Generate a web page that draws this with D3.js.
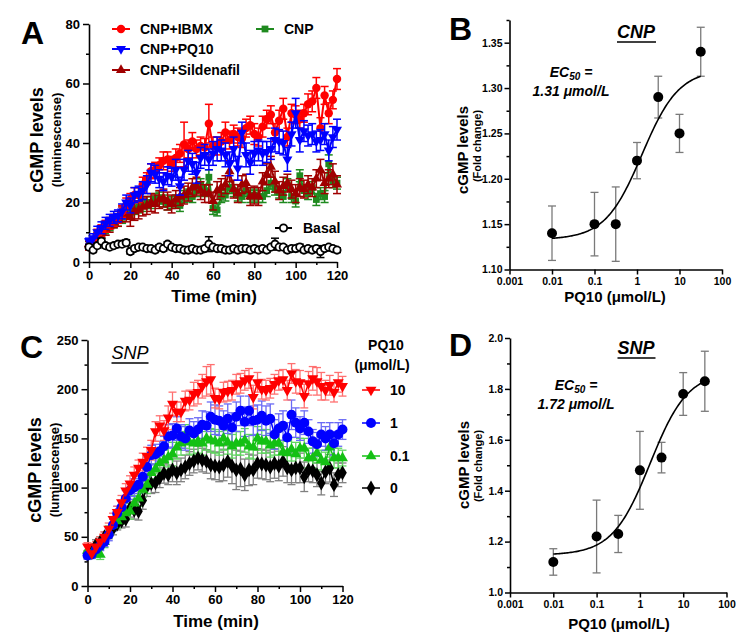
<!DOCTYPE html>
<html><head><meta charset="utf-8">
<script src="https://cdn.jsdelivr.net/npm/d3@7"></script>
<style>body{margin:0;background:#fff}svg{display:block}</style>
</head><body><svg id="c" width="747" height="642"></svg>
<script>
// ---------- DATA ----------
const timeMin = [0,2,4,6,8,10,12,14,16,18,
 20,22,24,26,28,30,32,34,36,38,
 40,42,44,46,48,50,52,54,56,58,
 60,62,64,66,68,70,72,74,76,78,
 80,82,84,86,88,90,92,94,96,98,
 100,102,104,106,108,110,112,114,116,118,
 120];

// Panel A (CNP) series
const cnpIbmx = [5,7,9,10.5,12,13,14,15,17,19,
 21,22.5,22.5,26,28,30.5,31,32.5,34,34.5,
 33,35,36.5,39.5,38,40.5,38,39,38.5,46.5,
 39,39,40.5,43.5,41,43,42,41.5,45,46,
 43,42,45.5,48,49.5,43.5,47.5,51.5,42,50,
 49.5,48,50,53,54,58.5,45,56,50,54.5,
 61.5];
const cnpPq10 = [7,8,10,11.5,13,14,15,15.5,17,20,
 19,22.5,23,24,26,30,29.5,28,27,29,
 28.5,31,25.5,31,34,33,30,35,36,34.5,
 36.5,38,37.5,36,33,38,31.5,43.5,36,33.5,
 36.5,37.5,36.5,37,38,41,40.5,40,34.5,43,
 50,41,44,42.5,43,40.5,41,43,37.5,42,
 44.5];
const cnpSild = [6,7,8,10,11,12,13.5,14,16,16,
 15,17,17.5,18.5,19,20,19.5,21,21.5,20.5,
 19.5,21,22,22.5,23.5,25,25.5,24,23,23,
 20.5,24,25,26,30.5,24.5,23,26,26.5,22,
 22.5,22,27,29.5,32,27,24,25.5,26.5,24.5,
 23,25,24.5,26,25,28,31,26.5,28,29.5,
 26];
const cnpOnly = [6,7,8,9.5,10.5,12,13,14,15,17,
 17.5,18,18.5,19,20,20,21,21.5,20.5,19.5,
 20,20.5,19,22,22.5,22,24,26,24,28.5,
 18,17.5,22,22.5,25,24,22.5,22,24,22,
 22.5,22,22,24,26.5,24.5,23.5,22,26,22,
 20.5,29,24,23,25,21,23,22,33,27,
 26.5];
const basal = [5,4,5.5,7,5.5,5,5.5,6,6,6.5,
 3.5,4.5,5,5,4.5,4.5,4,5,4.5,6,
 5,4.5,4.5,4,4,4.5,4,4,4.5,6,
 5,4.5,4.5,4,4,4.5,4,4.5,4.5,4,
 4.5,4,4.5,4,5,6,5,5,4,4.5,
 4.5,5,4,4.5,4,4.5,3.5,4.5,5,4.5,
 4];
const errIbmx = [1,1.5,2,2,2,2,2,2,2,2.5,
 2,2.5,2.5,2.5,2,2.5,2.5,2.5,3,2.5,
 2.5,3,3,7.5,3,3,3,3,3,6.5,
 3,3,3,3.5,3,3,3,3,3,3,
 3.5,3,3.5,3,3,3,3.5,3.5,3,3,
 3,3,3,3.5,3.5,3.5,3.5,3,3.5,3,
 3.5];
const errPq10 = [1,1.5,2,2,2,2,2,2,2.5,2.5,
 2.5,2.5,2.5,3,3,3,3,3,3,3,
 3,3.5,3,3.5,3.5,3.5,3.5,3.5,3.5,3.5,
 4,4,3.5,4,4,4,4,3.5,4,4,
 4,3.5,4,3.5,3.5,4,4,4,4,4,
 5,4,3.5,3.5,3.5,3.5,3.5,3.5,3.5,3.5,
 3.5];
const errSild = [1,1.5,2,2,2,2,2,2,2.5,2.5,
 3,3,3,3,3,3,3,3,3,3,
 3,3,3,3,3,3,3,3,3,3,
 3,3,3,3,3.5,3,3,3,3,3,
 3,3,3,3.5,3.5,3.5,3,3,3,3,
 3,3,3,3,3,3,3.5,3.5,3,3.5,
 3];
const errCnp = [1,1,1.5,1.5,1.5,1.5,1.5,2,2,2,
 2,2,2,2,2,2,2,2,2,2,
 2,2,2,2,2,2,2,2,2,2.5,
 2,2,2,2,2,2,2,2,2,2,
 2,2,2,2,2,2,2,2,2,2,
 2,2,2,2,2,2,2,2,3,2,
 2];
const errBasal = [0.8,0.8,0.8,1,0.8,0.8,0.8,0.8,0.8,1,
 0.8,0.8,0.8,0.8,0.8,0.8,0.8,0.8,0.8,0.8,
 0.8,0.8,0.8,0.8,0.8,0.8,0.8,0.8,0.8,2.5,
 0.8,0.8,0.8,0.8,0.8,0.8,0.8,0.8,0.8,0.8,
 0.8,0.8,0.8,0.8,0.8,2,0.8,0.8,0.8,0.8,
 1,1,0.8,0.8,0.8,0.8,2,0.8,0.8,0.8,
 0.8];

// Panel C (SNP) series by PQ10 dose
const snp10 = [40,33,40,45,50,58,68,75,85,97,
 104,113,120,126,132,138,157,163,158,171,
 185,177,177,188,189,195,197,203,208,210,
 191,190,197,198,199,205,206,209,211,192,
 207,200,199,201,205,209,210,199,216,208,
 207,193,206,211,208,203,199,204,197,207,
 203];
const snp1 = [31,32,37,41,45,52,62,74,80,89,
 97,100,103,111,121,133,134,137,142,152,
 153,160,152,150,158,155,159,164,163,172,
 169,168,163,170,161,172,178,167,178,168,
 169,173,168,170,154,160,163,151,174,166,
 160,166,157,147,144,154,150,154,145,154,
 159];
const snp01 = [36,33,34,32,45,55,62,66,70,74,
 76,84,89,98,103,115,119,125,128,131,
 134,141,145,152,146,145,147,145,150,148,
 147,145,150,146,142,145,145,148,142,141,
 150,147,147,143,145,145,136,135,139,134,
 140,140,130,130,135,128,126,141,130,130,
 130];
const snp0 = [32,35,42,45,50,54,58,63,66,68,
 79,77,76,87,101,104,105,110,114.5,113,
 118,115,118,121,124.5,127,130,128,126.6,123,
 122,121,123,126.6,122,118,119,113,118,118,
 124.6,124,123,121,124.5,122,126.6,120,118,120,
 120,111,118,117,113,104.6,116,119.6,103,113,
 115];
const err10 = [4,4,5,5,5,6,6,6,7,7,
 8,8,8,9,9,10,10,10,10,12,
 12,10,10,10,10,12,12,12,15,15,
 10,10,10,10,10,10,10,10,10,12,
 10,10,10,10,10,10,10,10,10,12,
 12,12,12,12,14,14,10,10,10,10,
 10];
const err1 = [4,4,5,5,5,6,6,7,7,8,
 9,9,9,9,10,10,10,10,10,12,
 12,12,12,12,12,12,12,14,14,15,
 15,15,15,15,15,15,15,15,15,15,
 15,15,15,15,15,15,15,15,15,15,
 12,12,12,12,12,12,12,12,12,12,
 10];
const err01 = [6,5,5,5,6,6,6,7,7,7,
 8,8,8,8,9,9,10,10,10,10,
 12,12,12,12,12,12,12,12,12,12,
 12,12,12,12,12,12,12,12,12,12,
 12,12,12,12,12,12,12,12,12,12,
 10,10,10,10,10,10,10,10,10,10,
 8];
const err0 = [4,4,5,5,5,6,6,6,7,8,
 9,9,9,9,10,10,10,10,10,10,
 12,12,12,12,12,12,12,12,12,14,
 14,15,16,16,18,20,18,16,16,15,
 15,15,15,15,15,15,15,15,15,15,
 15,15,12,12,12,12,12,14,12,12,
 10];

// Panels B / D dose response
const dosePQ10 = [0.01,0.1,0.316,1,3.16,10,31.6];
const foldCNP = [1.14,1.15,1.15,1.22,1.29,1.25,1.34];
const semCNP = [0.03,0.035,0.041,0.02,0.023,0.021,0.027];
const foldSNP = [1.12,1.22,1.23,1.48,1.53,1.78,1.83];
const semSNP = [0.052,0.143,0.073,0.153,0.06,0.084,0.118];
const fitCNP = [1.133, 1.3205, 1.31, 1.0]; // bottom, top, EC50, hill
const fitSNP = [1.147, 1.867, 1.72, 1.0];

// ticks
const timeTicks = [0,20,40,60,80,100,120];
const timeMinor = [10,30,50,70,90,110];
const ticksA = [0,20,40,60,80];
const minorA = [10,30,50,70];
const ticksC = [0,50,100,150,200,250];
const minorC = [25,75,125,175,225];
const logTicks = [0.001,0.01,0.1,1,10,100];
const logLabels = ["0.001","0.01","0.1","1","10","100"];
const ticksB = [1.10,1.15,1.20,1.25,1.30,1.35];
const minorB = [1.125,1.175,1.225,1.275,1.325,1.375];
const ticksD = [1.0,1.2,1.4,1.6,1.8,2.0];
const minorD = [1.1,1.3,1.5,1.7,1.9];

// ---------- DRAW ----------
const FONT = '"Liberation Sans", Arial, sans-serif';
const svg = d3.select("#c");

function txt(g, x, y, s, fs, opts = {}) {
  const t = g.append("text").attr("x", x).attr("y", y).text(s)
    .attr("font-family", FONT).attr("font-size", fs)
    .attr("font-weight", opts.weight || "bold")
    .attr("font-style", opts.style || "normal")
    .attr("text-anchor", opts.anchor || "start").attr("fill", "#000");
  if (opts.rot) t.attr("transform", `rotate(${opts.rot},${x},${y})`);
  return t;
}
function underline(g, t, dy) {
  const b = t.node().getBBox();
  g.append("line").attr("x1", b.x).attr("x2", b.x + b.width)
    .attr("y1", dy).attr("y2", dy).attr("stroke", "#000").attr("stroke-width", 1.5);
}
function styleAxis(g, fs) {
  g.attr("font-family", FONT).attr("font-size", fs);
  g.select(".domain").attr("stroke", "#000").attr("stroke-width", 1.6);
  g.selectAll(".tick line").attr("stroke", "#000").attr("stroke-width", 1.5);
  g.selectAll(".tick text").attr("font-weight", "bold").attr("fill", "#000").attr("font-size", fs);
}
function axes(x, y, xT, xMin, yT, yMin, fs, xFmt, yFmt, major, minor, pad) {
  const g = svg.append("g");
  const [x0] = x.range(); const [y0] = y.range();
  const gx = g.append("g").attr("transform", `translate(0,${y0})`)
    .call(d3.axisBottom(x).tickValues(xT).tickSize(major).tickSizeOuter(0).tickPadding(3).tickFormat(xFmt));
  styleAxis(gx, fs);
  if (xMin.length) {
    const m = g.append("g").attr("transform", `translate(0,${y0})`)
      .call(d3.axisBottom(x).tickValues(xMin).tickSize(minor).tickFormat(""));
    m.select(".domain").remove(); styleAxis(m, fs);
  }
  const gy = g.append("g").attr("transform", `translate(${x0},0)`)
    .call(d3.axisLeft(y).tickValues(yT).tickSize(major).tickSizeOuter(0).tickPadding(pad).tickFormat(yFmt));
  styleAxis(gy, fs);
  const my = g.append("g").attr("transform", `translate(${x0},0)`)
    .call(d3.axisLeft(y).tickValues(yMin).tickSize(minor).tickFormat(""));
  my.select(".domain").remove(); styleAxis(my, fs);
}
function sym(type, size, rot) {
  return { p: d3.symbol().type(type).size(size)(), rot: rot || 0 };
}
function drawErr(g, x, y, t, v, e, color, cap, w) {
  const eg = g.append("g").attr("stroke", color).attr("stroke-width", w);
  t.forEach((ti, i) => {
    const cx = x(ti), yt = y(v[i] + e[i]), yb = y(v[i] - e[i]);
    eg.append("line").attr("x1", cx).attr("x2", cx).attr("y1", yt).attr("y2", yb);
    eg.append("line").attr("x1", cx - cap/2).attr("x2", cx + cap/2).attr("y1", yt).attr("y2", yt);
    eg.append("line").attr("x1", cx - cap/2).attr("x2", cx + cap/2).attr("y1", yb).attr("y2", yb);
  });
}
function drawLineMarks(g, x, y, t, v, st) {
  g.append("path").datum(t.map((ti, i) => [ti, v[i]]))
    .attr("d", d3.line().x(d => x(d[0])).y(d => y(d[1])))
    .attr("fill", "none").attr("stroke", st.color).attr("stroke-width", st.lw);
  g.append("g").selectAll("path").data(t.map((ti, i) => [ti, v[i]])).join("path")
    .attr("d", st.s.p)
    .attr("transform", d => `translate(${x(d[0])},${y(d[1])}) rotate(${st.s.rot})`)
    .attr("fill", st.fill).attr("stroke", st.stroke || "none").attr("stroke-width", st.sw || 0);
}

// ===== Panel A =====
const xA = d3.scaleLinear().domain([0, 120]).range([89, 337]);
const yA = d3.scaleLinear().domain([0, 80]).range([262, 24]);
axes(xA, yA, timeTicks, timeMinor, ticksA, minorA, 13, d3.format("d"), d3.format("d"), 6, 3, 3);
const gA = svg.append("g");
const seriesA = [
  { v: cnpOnly, e: errCnp, color: "#1f8a1f", s: sym(d3.symbolSquare, 46), fill: "#1f8a1f" },
  { v: cnpSild, e: errSild, color: "#a00000", s: sym(d3.symbolTriangle, 44), fill: "#a00000" },
  { v: cnpIbmx, e: errIbmx, color: "#ff0000", s: sym(d3.symbolCircle, 56), fill: "#ff0000" },
  { v: cnpPq10, e: errPq10, color: "#0000ff", s: sym(d3.symbolTriangle, 44, 180), fill: "#0000ff" },
];
seriesA.forEach(s => {
  drawErr(gA, xA, yA, timeMin, s.v, s.e, s.color, 8, 1.5);
  drawLineMarks(gA, xA, yA, timeMin, s.v, { color: s.color, lw: 2, s: s.s, fill: s.fill });
});
drawErr(gA, xA, yA, timeMin, basal, errBasal, "#000", 8, 1.5);
drawLineMarks(gA, xA, yA, timeMin, basal, { color: "#000", lw: 2, s: sym(d3.symbolCircle, 42), fill: "#fff", stroke: "#000", sw: 1.8 });

txt(svg, 21, 44, "A", 32);
txt(svg, 43, 140, "cGMP levels", 18, { anchor: "middle", rot: -90 });
txt(svg, 61, 140, "(luminescense)", 13, { anchor: "middle", rot: -90 });
txt(svg, 214, 302, "Time (min)", 17, { anchor: "middle" });

// legend A
const legA = [
  { name: "CNP+IBMX", x: 112, y: 29, color: "#ff0000", s: sym(d3.symbolCircle, 56) },
  { name: "CNP+PQ10", x: 112, y: 49, color: "#0000ff", s: sym(d3.symbolTriangle, 44, 180) },
  { name: "CNP+Sildenafil", x: 112, y: 70, color: "#a00000", s: sym(d3.symbolTriangle, 44) },
  { name: "CNP", x: 256, y: 29, color: "#1f8a1f", s: sym(d3.symbolSquare, 46) },
];
legA.forEach(l => {
  svg.append("line").attr("x1", l.x).attr("x2", l.x + 18).attr("y1", l.y).attr("y2", l.y)
    .attr("stroke", l.color).attr("stroke-width", 2);
  svg.append("path").attr("d", l.s.p).attr("transform", `translate(${l.x + 9},${l.y}) rotate(${l.s.rot})`).attr("fill", l.color);
  txt(svg, l.x + 28, l.y + 5, l.name, 14);
});
svg.append("line").attr("x1", 275).attr("x2", 292).attr("y1", 228).attr("y2", 228).attr("stroke", "#000").attr("stroke-width", 2);
svg.append("path").attr("d", sym(d3.symbolCircle, 42).p).attr("transform", "translate(283.5,228)")
  .attr("fill", "#fff").attr("stroke", "#000").attr("stroke-width", 1.8);
txt(svg, 303, 233, "Basal", 14);

// ===== Panel C =====
const xC = d3.scaleLinear().domain([0, 120]).range([87.5, 342.5]);
const yC = d3.scaleLinear().domain([0, 250]).range([586, 340]);
axes(xC, yC, timeTicks, timeMinor, ticksC, minorC, 13, d3.format("d"), d3.format("d"), 6, 3, 3);
const gC = svg.append("g");
const seriesC = [
  { name: "0", v: snp0, e: err0, color: "#000", ec: "#808080", s: sym(d3.symbolDiamond, 64), y: 488 },
  { name: "0.1", v: snp01, e: err01, color: "#14c014", ec: "#5fd65f", s: sym(d3.symbolTriangle, 52), y: 456 },
  { name: "1", v: snp1, e: err1, color: "#0000ff", ec: "#6a6af5", s: sym(d3.symbolCircle, 78), y: 423 },
  { name: "10", v: snp10, e: err10, color: "#ff0000", ec: "#ff7070", s: sym(d3.symbolTriangle, 52, 180), y: 390 },
];
seriesC.forEach(s => drawErr(gC, xC, yC, timeMin, s.v, s.e, s.ec, 8, 1.3));
seriesC.forEach(s => drawLineMarks(gC, xC, yC, timeMin, s.v, { color: s.color, lw: 1.5, s: s.s, fill: s.color }));

txt(svg, 20, 358, "C", 32);
const snpC = txt(svg, 130, 359, "SNP", 18, { anchor: "middle", style: "italic", weight: "normal" });
underline(svg, snpC, 363);
txt(svg, 41, 470, "cGMP levels", 18, { anchor: "middle", rot: -90 });
txt(svg, 59, 470, "(luminescense)", 13, { anchor: "middle", rot: -90 });
txt(svg, 216, 627, "Time (min)", 17, { anchor: "middle" });
txt(svg, 386, 350, "PQ10", 14, { anchor: "middle" });
txt(svg, 382, 370, "(μmol/L)", 14, { anchor: "middle" });
seriesC.forEach(s => {
  svg.append("line").attr("x1", 362).attr("x2", 380).attr("y1", s.y).attr("y2", s.y)
    .attr("stroke", s.color).attr("stroke-width", 1.5);
  svg.append("path").attr("d", s.s.p).attr("transform", `translate(371,${s.y}) rotate(${s.s.rot})`).attr("fill", s.color);
  txt(svg, 390, s.y + 5, s.name, 14);
});

// ===== Panels B & D =====
function dosePanel(cfg) {
  const x = d3.scaleLog().domain([0.001, 100]).range(cfg.xr);
  const y = d3.scaleLinear().domain(cfg.yd).range(cfg.yr);
  axes(x, y, logTicks, [], cfg.ticks, cfg.minor, 10.5, (d, i) => logLabels[i], d3.format(cfg.fmt), 5, 3, 2);
  const g = svg.append("g");
  drawErr(g, x, y, dosePQ10, cfg.mean, cfg.sem, "#7a7a7a", 8, 1.3);
  const [b, t, ec, h] = cfg.fit;
  const xs = d3.range(0, 121).map(i => Math.pow(10, -2 + i * (Math.log10(31.6) + 2) / 120));
  g.append("path").datum(xs.map(xv => [xv, b + (t - b) / (1 + Math.pow(ec / xv, h))]))
    .attr("d", d3.line().x(d => x(d[0])).y(d => y(d[1])))
    .attr("fill", "none").attr("stroke", "#000").attr("stroke-width", 1.6);
  g.selectAll("circle").data(dosePQ10).join("circle")
    .attr("cx", d => x(d)).attr("cy", (d, i) => y(cfg.mean[i])).attr("r", 5).attr("fill", "#000");
}
dosePanel({ xr: [509.5, 722], yd: [1.10, 1.375], yr: [269.5, 20], ticks: ticksB, minor: minorB, fmt: ".2f",
  mean: foldCNP, sem: semCNP, fit: fitCNP });
dosePanel({ xr: [510, 726.5], yd: [1.0, 2.0], yr: [592.5, 338], ticks: ticksD, minor: minorD, fmt: ".1f",
  mean: foldSNP, sem: semSNP, fit: fitSNP });

// B texts
txt(svg, 449, 40, "B", 32);
const cnpT = txt(svg, 636, 38, "CNP", 18, { anchor: "middle", style: "italic" });
underline(svg, cnpT, 42);
function ec50(cx, y1, y2, val) {
  const t = txt(svg, cx, y1, "EC", 14, { anchor: "middle", style: "italic" });
  t.append("tspan").attr("font-size", 10).attr("dy", 2.5).text("50");
  t.append("tspan").attr("dy", -2.5).text(" =");
  txt(svg, cx, y2, val + " μmol/L", 14, { anchor: "middle", style: "italic" });
}
ec50(571, 77, 96, "1.31");
txt(svg, 468, 150, "cGMP levels", 15, { anchor: "middle", rot: -90 });
txt(svg, 481, 146, "(Fold change)", 11, { anchor: "middle", rot: -90 });
txt(svg, 615, 302, "PQ10 (μmol/L)", 15, { anchor: "middle" });

// D texts
txt(svg, 449, 356, "D", 32);
const snpD = txt(svg, 636, 354, "SNP", 18, { anchor: "middle", style: "italic" });
underline(svg, snpD, 358);
ec50(576, 390, 409, "1.72");
txt(svg, 469, 465, "cGMP levels", 15, { anchor: "middle", rot: -90 });
txt(svg, 482, 466, "(Fold change)", 11, { anchor: "middle", rot: -90 });
txt(svg, 619, 629, "PQ10 (μmol/L)", 15, { anchor: "middle" });
</script></body></html>
